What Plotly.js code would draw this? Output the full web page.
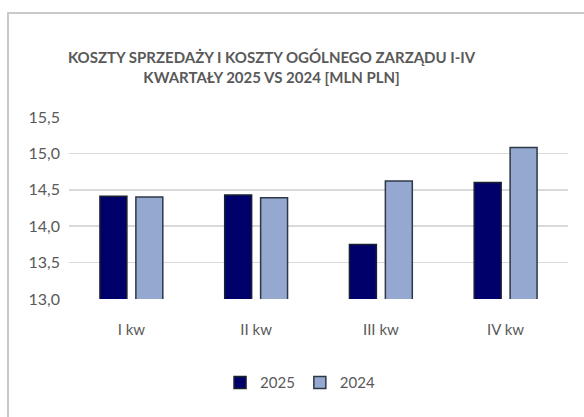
<!DOCTYPE html>
<html><head><meta charset="utf-8">
<script src="https://cdn.plot.ly/plotly-3.0.1.min.js"></script>
<style>
html,body{margin:0;padding:0;background:#fff;overflow:hidden;}
#chart{position:absolute;left:0;top:0;width:584px;height:417px;}
#frame{position:absolute;left:7px;top:12px;width:600px;height:420px;border:2px solid #c9c9c9;box-sizing:border-box;pointer-events:none;}
</style></head>
<body>
<div id="chart"></div>
<div id="frame"></div>
<script>
const categories = ["I kw", "II kw", "III kw", "IV kw"];
const values2025 = [14.41, 14.43, 13.75, 14.60];
const values2024 = [14.40, 14.39, 14.62, 15.08];
const yTicks = [13.0, 13.5, 14.0, 14.5, 15.0, 15.5];

const font = "Lato, 'Open Sans', sans-serif";
const traces = [
  {type:"bar", name:"2025", x:categories, y:values2025,
   marker:{color:"#00006b", line:{color:"#1b2030", width:1.5}}},
  {type:"bar", name:"2024", x:categories, y:values2024,
   marker:{color:"#95a9d0", line:{color:"#2e3848", width:1.5}}}
];
const layout = {
  width:584, height:417,
  paper_bgcolor:"rgba(0,0,0,0)", plot_bgcolor:"rgba(0,0,0,0)",
  margin:{l:69, r:16, t:117, b:118},
  separators:", ",
  barmode:"group", bargap:0.424, bargroupgap:0.25,
  title:{text:"KOSZTY SPRZEDAŻY I KOSZTY OGÓLNEGO ZARZĄDU I-IV<br>KWARTAŁY 2025 VS 2024 [MLN PLN]",
    font:{family:font, size:15, color:"#595959", weight:"bold"},
    x:0.465, xanchor:"center", y:0.848, yanchor:"middle"},
  xaxis:{type:"category", showgrid:false, showline:false, ticks:"",
    tickfont:{family:font, size:15, color:"#595959"}, ticklabelstandoff:20},
  yaxis:{range:[13, 15.5], tickvals:yTicks, tickformat:".1f",
    showgrid:true, gridcolor:"#d9d9d9", gridwidth:1.5, zeroline:false, showline:false,
    tickfont:{family:font, size:16, color:"#595959"}, ticklabelstandoff:8},
  showlegend:true,
  legend:{orientation:"h", x:0.463, xanchor:"center", y:-0.46, yanchor:"middle",
    font:{family:font, size:15, color:"#595959"}, itemwidth:30, traceorder:"normal"}
};
Plotly.newPlot("chart", traces, layout, {displayModeBar:false, staticPlot:true});
</script>
</body></html>
